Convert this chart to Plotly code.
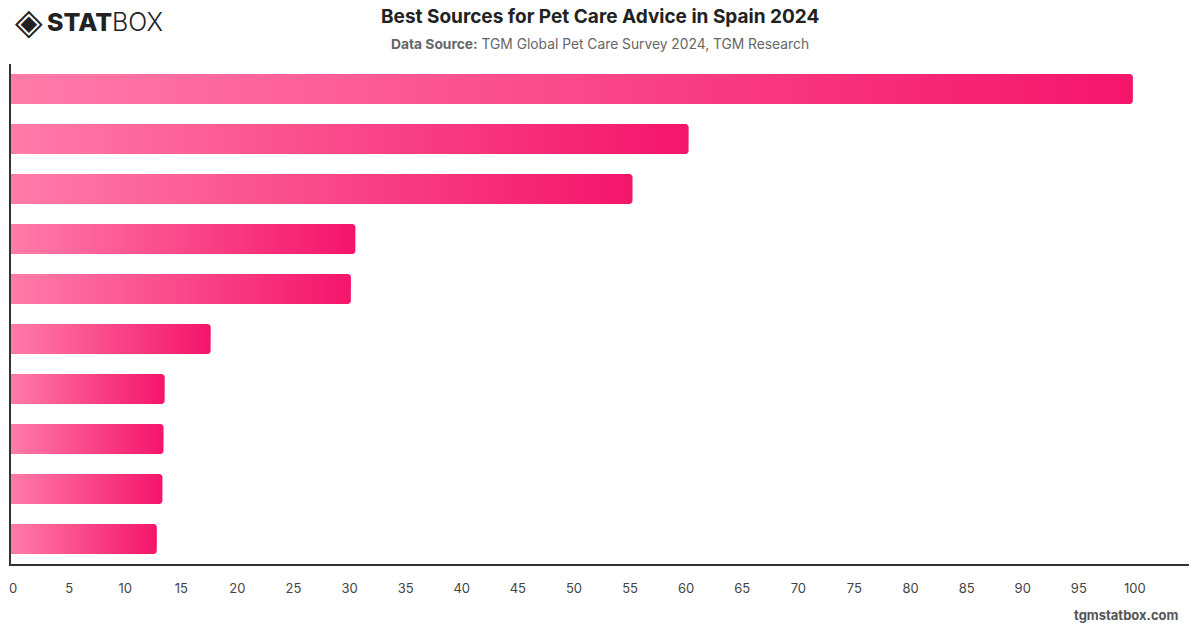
import math
import plotly.graph_objects as go

# ---- data ----
categories = [f"Source {i}" for i in range(1, 11)]
values = [100, 60.4, 55.4, 30.7, 30.3, 17.8, 13.7, 13.6, 13.5, 13.0]
x_ticks = list(range(0, 101, 5))
x_tick_labels = [str(t) for t in x_ticks]

# ---- layout geometry ----
W, H = 1200, 628
M_L, M_R, M_T, M_B = 11, 11, 64, 64
X_MAX = 105
plot_w = W - M_L - M_R
plot_h = H - M_T - M_B
px_per_x = plot_w / X_MAX
px_per_y = plot_h / len(categories)
half = 0.3
rad_px = 3.5
rx = rad_px / px_per_x
ry = rad_px / px_per_y

fig = go.Figure()
for i, (c, v) in enumerate(zip(categories, values)):
    top, bot = i - half, i + half
    xs = [0, v - rx]
    ys = [top, top]
    for k in range(1, 9):
        a = -math.pi / 2 + (math.pi / 2) * k / 8
        xs.append(v - rx + rx * math.cos(a))
        ys.append(top + ry + ry * math.sin(a))
    for k in range(1, 9):
        a = (math.pi / 2) * k / 8
        xs.append(v - rx + rx * math.cos(a))
        ys.append(bot - ry + ry * math.sin(a))
    xs += [0, 0]
    ys += [bot, top]
    fig.add_trace(go.Scatter(
        x=xs, y=ys, fill="toself", mode="none",
        fillgradient=dict(type="horizontal", start=0, stop=v,
                          colorscale=[[0, "#FF7BA8"], [1, "#F4156A"]]),
        name=c, hoverinfo="text", hoveron="fills", text=f"{c}: {v}",
        showlegend=False,
    ))

fig.update_layout(
    width=W, height=H,
    margin=dict(l=M_L, r=M_R, t=M_T, b=M_B, autoexpand=False),
    paper_bgcolor="white", plot_bgcolor="white",
    font=dict(family="Inter, Roboto, sans-serif", color="#444"),
    showlegend=False,
    xaxis=dict(range=[0, X_MAX], tickvals=x_ticks, ticktext=x_tick_labels,
               showgrid=False, zeroline=False, showline=True,
               linecolor="#333", linewidth=1.5, ticks="",
               tickfont=dict(size=13, color="#444"), ticklabelstandoff=12,
               ticklabelshift=2, automargin=False, fixedrange=True),
    yaxis=dict(range=[len(categories) - 0.5, -0.5], showticklabels=False,
               showgrid=False, zeroline=False, showline=True,
               linecolor="#333", linewidth=1.5, ticks="",
               automargin=False, fixedrange=True),
)

def px_x(p):
    return (p - M_L) / plot_w

def px_y(p):
    return (H - M_B - p) / plot_h

anns = [
    dict(text="<b>Best Sources for Pet Care Advice in Spain 2024</b>",
         x=px_x(600), y=px_y(17), xanchor="center", yanchor="middle",
         font=dict(size=19, color="#222")),
    dict(text="<b>Data Source:</b> TGM Global Pet Care Survey 2024, TGM Research",
         x=px_x(600), y=px_y(44), xanchor="center", yanchor="middle",
         font=dict(size=13.8, color="#666")),
    dict(text="<b>tgmstatbox.com</b>",
         x=px_x(1181), y=px_y(615), xanchor="right", yanchor="middle",
         font=dict(size=13, color="#555")),
    dict(text="◈", x=px_x(28.5), y=px_y(22), xanchor="center", yanchor="middle",
         font=dict(size=36, color="#222", family="DejaVu Sans")),
    dict(text="<span style='font-weight:800'>STAT</span>BOX",
         x=px_x(45), y=px_y(22), xanchor="left", yanchor="middle",
         font=dict(size=25, color="#222", weight=300, family="Inter")),
]
for a in anns:
    a.update(xref="paper", yref="paper", showarrow=False)
fig.update_layout(annotations=anns)

fig.write_html("out.html")
